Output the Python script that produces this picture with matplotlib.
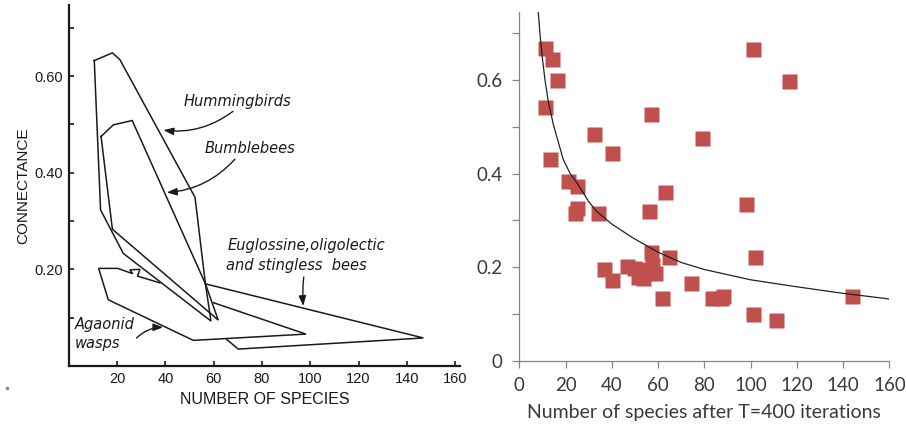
import matplotlib
matplotlib.use('Agg')
import matplotlib.pyplot as plt
from matplotlib.ticker import MultipleLocator

# outlines of the connectance regions per pollinator group
hum_x = [10.6, 18.1, 21.2, 52.3, 56.6, 58.9, 22.6, 13.2, 10.6]
hum_y = [0.632, 0.648, 0.634, 0.349, 0.170, 0.093, 0.233, 0.323, 0.632]
bee_x = [13.4, 18.5, 26.3, 56.6, 61.9, 18.1, 13.4]
bee_y = [0.475, 0.499, 0.508, 0.170, 0.095, 0.283, 0.475]
aga_x = [59.9, 98.2, 51.6, 16.4, 12.4, 20.3, 26.5, 25.3, 29.5, 28.5, 37.8]
aga_y = [0.131, 0.066, 0.053, 0.137, 0.202, 0.202, 0.191, 0.199, 0.200, 0.186, 0.172]
eug_x = [56.6, 146.8, 70.2, 65.4]
eug_y = [0.170, 0.058, 0.035, 0.055]

left_xticks = [20, 40, 60, 80, 100, 120, 140, 160]
left_yticks = [0.20, 0.40, 0.60]

# simulated communities
sp_x = [11.1, 14.3, 16.2, 11.1, 13.3, 21.2, 25.1, 24.8, 24.1, 34.2, 32.3, 40.2,
        56.9, 79.1, 100.9, 116.8, 63.0, 56.2, 97.9, 56.9, 64.9, 101.9, 36.8,
        39.9, 46.4, 49.5, 51.5, 53.5, 55.5, 57.2, 58.5, 61.8, 74.1, 83.2, 87.2,
        88.2, 100.9, 110.8, 143.7]
sp_y = [0.668, 0.645, 0.599, 0.542, 0.431, 0.384, 0.374, 0.326, 0.315, 0.315,
        0.485, 0.443, 0.527, 0.475, 0.666, 0.598, 0.361, 0.320, 0.334, 0.233,
        0.222, 0.222, 0.197, 0.172, 0.203, 0.198, 0.178, 0.176, 0.195, 0.205,
        0.188, 0.135, 0.167, 0.135, 0.133, 0.138, 0.099, 0.086, 0.138]

# trend curve
fit_x = [8.2, 9, 10, 11.1, 12.5, 14.7, 17, 19, 22, 25.5, 30, 33.5, 40, 49.3,
         60, 70, 80, 100, 120, 140, 160]
fit_y = [0.745, 0.695, 0.645, 0.600, 0.555, 0.505, 0.465, 0.430, 0.400, 0.376,
         0.340, 0.319, 0.292, 0.262, 0.232, 0.210, 0.195, 0.173, 0.158, 0.144,
         0.132]

fig = plt.figure(figsize=(9.06, 4.32), dpi=100)

# ---- left: hand drawn style regions
narrow = ['Liberation Sans Narrow', 'Liberation Sans', 'DejaVu Sans']
ax1 = fig.add_axes([0.0758, 0.1528, 0.432, 0.8356])
ink = '#1a1a1a'
for xs, ys in [(hum_x, hum_y), (bee_x, bee_y), (aga_x, aga_y), (eug_x, eug_y)]:
    ax1.plot(xs, ys, color=ink, lw=1.1, solid_joinstyle='miter')
ax1.set_xlim(0, 162)
ax1.set_ylim(0, 0.747)
for s in ['top', 'right']:
    ax1.spines[s].set_visible(False)
for s in ['left', 'bottom']:
    ax1.spines[s].set_linewidth(1.6)
    ax1.spines[s].set_color(ink)
ax1.set_xticks(left_xticks)
ax1.set_yticks(left_yticks)
ax1.yaxis.set_minor_locator(MultipleLocator(0.1))
ax1.set_xticklabels([str(v) for v in left_xticks], family=narrow, fontsize=10.5)
ax1.set_yticklabels(['%.2f' % v for v in left_yticks], family=narrow, fontsize=10.5)
ax1.tick_params(direction='in', length=3.5, width=1.2, color=ink, labelcolor=ink, pad=4)
ax1.tick_params(which='minor', direction='in', length=3.5, width=1.2, color=ink)
ax1.set_xlabel('NUMBER OF SPECIES', family=narrow, fontsize=11.5, color=ink, labelpad=5)
ax1.set_ylabel('CONNECTANCE', family=narrow, fontsize=11, color=ink, labelpad=3)

lab = dict(fontsize=10.5, style='italic', color=ink)
arr = dict(arrowstyle='-|>,head_length=0.6,head_width=0.22', color=ink, lw=1.0,
           shrinkA=0, shrinkB=0)
ax1.text(69.7, 0.547, 'Hummingbirds', ha='center', va='center', **lab)
ax1.annotate('', xy=(39.2, 0.488), xytext=(68, 0.527),
             arrowprops=dict(connectionstyle='arc3,rad=-0.2', **arr))
ax1.text(75.0, 0.450, 'Bumblebees', ha='center', va='center', **lab)
ax1.annotate('', xy=(40.6, 0.359), xytext=(68.8, 0.428),
             arrowprops=dict(connectionstyle='arc3,rad=-0.2', **arr))
ax1.text(65.6, 0.249, 'Euglossine,oligolectic', ha='left', va='center', **lab)
ax1.text(65.3, 0.208, 'and stingless  bees', ha='left', va='center', **lab)
ax1.annotate('', xy=(97.1, 0.124), xytext=(97.3, 0.184),
             arrowprops=dict(connectionstyle='arc3,rad=0.05', **arr))
ax1.text(2.4, 0.086, 'Agaonid', ha='left', va='center', **lab)
ax1.text(2.4, 0.047, 'wasps', ha='left', va='center', **lab)
ax1.annotate('', xy=(39.2, 0.080), xytext=(28.1, 0.058),
             arrowprops=dict(connectionstyle='arc3,rad=-0.2', **arr))

fig.add_artist(plt.Line2D([0.0077], [0.102], marker='o', ms=1.6, color='#888888',
                          transform=fig.transFigure))

# ---- right: simulation results
plt.rcParams['font.family'] = ['Lato', 'DejaVu Sans']
grey = '#868686'
txt = '#3a3a3a'
ax2 = fig.add_axes([0.5732, 0.165, 0.4084, 0.8079])
ax2.plot(fit_x, fit_y, color='#222222', lw=0.9, zorder=3)
ax2.plot(sp_x, sp_y, 's', color='#C0504D', ms=10.8, mec='none', zorder=2)
ax2.set_xlim(0, 160)
ax2.set_ylim(0, 0.746)
for s in ['top', 'right']:
    ax2.spines[s].set_visible(False)
for s in ['left', 'bottom']:
    ax2.spines[s].set_color(grey)
    ax2.spines[s].set_linewidth(0.9)
ax2.set_xticks(range(0, 161, 20))
ax2.set_yticks([0, 0.2, 0.4, 0.6])
ax2.set_yticklabels(['0', '0.2', '0.4', '0.6'])
ax2.yaxis.set_minor_locator(MultipleLocator(0.1))
ax2.tick_params(direction='out', length=5, width=0.9, color=grey, labelcolor=txt,
                labelsize=13.5, pad=7)
ax2.tick_params(which='minor', direction='out', length=5, width=0.9, color=grey)
ax2.set_xlabel('Number of species after T=400 iterations', fontsize=14,
               color=txt, labelpad=7)

fig.savefig('out.png', dpi=100)
